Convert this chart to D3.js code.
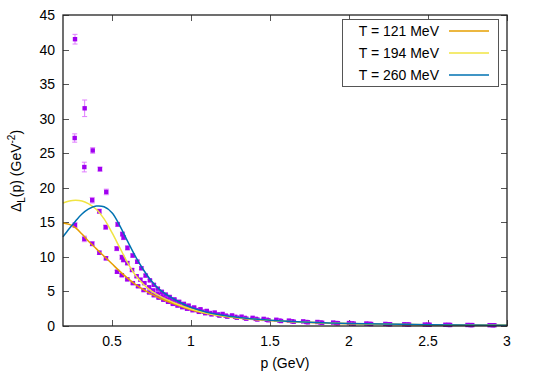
<!DOCTYPE html>
<html>
<head>
<meta charset="utf-8">
<script src="https://cdn.jsdelivr.net/npm/d3@7"></script>
<style>
  body { margin: 0; background: #fff; }
  svg text { font-family: "Liberation Sans", Arial, sans-serif; font-size: 14px; fill: #000; }
</style>
</head>
<body>
<div id="chart"></div>
<script>
// legend entries and curve colours
var temps = ["T = 121 MeV", "T = 194 MeV", "T = 260 MeV"];
var colors = ["#e69f00", "#f0e442", "#0072b2"];

// fitted curves
var curveP = [0.19, 0.23, 0.27, 0.31, 0.35, 0.40, 0.45, 0.50, 0.55, 0.60, 0.65, 0.70, 0.75, 0.80, 0.90, 1.00, 1.10, 1.20, 1.35, 1.50, 1.75, 2.00, 2.50, 3.00];
var fit121 = [14.9, 14.7, 14.2, 13.3, 12.3, 11.2, 10.1, 9.0, 7.9, 6.9, 6.0, 5.25, 4.6, 4.05, 3.15, 2.35, 1.8, 1.42, 1.05, 0.8, 0.52, 0.34, 0.18, 0.1];
var fit194 = [17.8, 18.1, 18.2, 18.1, 17.7, 16.9, 15.5, 13.5, 11.3, 9.1, 7.3, 6.0, 5.05, 4.35, 3.3, 2.45, 1.85, 1.45, 1.07, 0.81, 0.53, 0.35, 0.18, 0.1];
var fit260 = [12.9, 14.1, 15.2, 16.2, 16.9, 17.35, 17.25, 16.4, 14.5, 12.2, 10.0, 8.1, 6.5, 5.3, 3.8, 2.7, 2.0, 1.55, 1.12, 0.84, 0.55, 0.36, 0.19, 0.1];

// lattice data: [p, value, error]
var data121 = [
  [0.266, 14.6, 0.35], [0.325, 12.6, 0.4], [0.375, 11.9, 0.3], [0.420, 10.6, 0.25], [0.462, 9.8, 0.25],
  [0.532, 7.85, 0.2], [0.562, 7.35, 0.2], [0.597, 6.75, 0.2], [0.632, 6.2, 0.15], [0.665, 5.75, 0.15],
  [0.700, 5.2, 0.15], [0.735, 4.85, 0.15], [0.765, 4.45, 0.12], [0.795, 4.1, 0.12], [0.825, 3.8, 0.1],
  [0.855, 3.5, 0.1], [0.885, 3.2, 0.1], [0.915, 2.95, 0.1], [0.945, 2.72, 0.08], [0.975, 2.5, 0.08],
  [1.01, 2.28, 0.07], [1.05, 2.05, 0.07], [1.09, 1.85, 0.06], [1.13, 1.68, 0.06], [1.18, 1.5, 0.06],
  [1.23, 1.35, 0.05], [1.29, 1.2, 0.05], [1.35, 1.06, 0.05], [1.42, 0.94, 0.05], [1.49, 0.83, 0.05],
  [1.57, 0.72, 0.04], [1.65, 0.62, 0.04], [1.74, 0.54, 0.04], [1.83, 0.47, 0.04], [1.93, 0.4, 0.04],
  [2.03, 0.34, 0.03], [2.14, 0.29, 0.03], [2.26, 0.25, 0.03], [2.38, 0.21, 0.03], [2.51, 0.18, 0.03],
  [2.64, 0.15, 0.03], [2.78, 0.13, 0.03], [2.92, 0.11, 0.03]
];
var data194 = [
  [0.264, 27.2, 0.6], [0.325, 23.0, 0.7], [0.375, 18.2, 0.4], [0.420, 16.6, 0.3], [0.460, 14.3, 0.3],
  [0.530, 11.2, 0.3], [0.563, 9.95, 0.3], [0.572, 9.55, 0.25], [0.597, 9.1, 0.25], [0.627, 8.1, 0.2],
  [0.656, 7.2, 0.2], [0.680, 6.7, 0.2], [0.705, 6.2, 0.15], [0.735, 5.6, 0.15], [0.76, 5.15, 0.15],
  [0.79, 4.7, 0.12], [0.82, 4.3, 0.12], [0.85, 3.95, 0.1], [0.88, 3.6, 0.1], [0.91, 3.3, 0.1],
  [0.94, 3.05, 0.1], [0.97, 2.8, 0.08], [1.00, 2.55, 0.08], [1.04, 2.3, 0.07], [1.08, 2.08, 0.07],
  [1.12, 1.88, 0.06], [1.17, 1.68, 0.06], [1.22, 1.5, 0.06], [1.28, 1.33, 0.05], [1.34, 1.17, 0.05],
  [1.41, 1.03, 0.05], [1.48, 0.9, 0.05], [1.56, 0.78, 0.04], [1.64, 0.68, 0.04], [1.73, 0.58, 0.04],
  [1.82, 0.5, 0.04], [1.92, 0.43, 0.04], [2.02, 0.37, 0.03], [2.13, 0.31, 0.03], [2.25, 0.26, 0.03],
  [2.37, 0.22, 0.03], [2.50, 0.19, 0.03], [2.63, 0.16, 0.03], [2.77, 0.13, 0.03], [2.91, 0.11, 0.03]
];
var data260 = [
  [0.266, 41.5, 0.7], [0.327, 31.5, 1.2], [0.378, 25.4, 0.4], [0.424, 22.7, 0.3], [0.464, 19.4, 0.4],
  [0.536, 14.7, 0.3], [0.566, 13.3, 0.3], [0.573, 12.8, 0.3], [0.598, 11.3, 0.3], [0.631, 10.2, 0.25],
  [0.660, 9.3, 0.25], [0.686, 8.35, 0.2], [0.713, 7.3, 0.2], [0.74, 6.6, 0.15], [0.765, 5.95, 0.15],
  [0.79, 5.4, 0.12], [0.815, 4.95, 0.12], [0.84, 4.55, 0.1], [0.865, 4.2, 0.1], [0.895, 3.85, 0.1],
  [0.925, 3.5, 0.1], [0.955, 3.2, 0.08], [0.985, 2.95, 0.08], [1.02, 2.68, 0.07], [1.06, 2.42, 0.07],
  [1.10, 2.18, 0.06], [1.15, 1.95, 0.06], [1.20, 1.74, 0.06], [1.26, 1.53, 0.05], [1.32, 1.35, 0.05],
  [1.39, 1.18, 0.05], [1.46, 1.03, 0.05], [1.54, 0.9, 0.04], [1.62, 0.78, 0.04], [1.71, 0.67, 0.04],
  [1.80, 0.58, 0.04], [1.90, 0.5, 0.04], [2.00, 0.43, 0.03], [2.11, 0.36, 0.03], [2.23, 0.3, 0.03],
  [2.35, 0.25, 0.03], [2.48, 0.21, 0.03], [2.61, 0.18, 0.03], [2.75, 0.15, 0.03], [2.89, 0.12, 0.03]
];

var xTicks = [0.5, 1, 1.5, 2, 2.5, 3];
var yTicks = [0, 5, 10, 15, 20, 25, 30, 35, 40, 45];

var width = 534, height = 374;
var plotL = 63, plotR = 507, plotT = 15, plotB = 326;

var svg = d3.select("#chart").append("svg")
    .attr("width", width)
    .attr("height", height);

var x = d3.scaleLinear().domain([0.19, 3]).range([plotL, plotR]);
var y = d3.scaleLinear().domain([0, 45]).range([plotB, plotT]);

// ticks, inward and mirrored like gnuplot
var tickLen = 6;
var ticks = svg.append("g").attr("stroke", "#555").attr("stroke-width", 1);
xTicks.forEach(function(t) {
    var px = Math.round(x(t)) + 0.5;
    ticks.append("line").attr("x1", px).attr("x2", px).attr("y1", plotB).attr("y2", plotB - tickLen);
    ticks.append("line").attr("x1", px).attr("x2", px).attr("y1", plotT).attr("y2", plotT + tickLen);
});
yTicks.forEach(function(t) {
    var py = Math.round(y(t)) + 0.5;
    ticks.append("line").attr("x1", plotL).attr("x2", plotL + tickLen).attr("y1", py).attr("y2", py);
    ticks.append("line").attr("x1", plotR).attr("x2", plotR - tickLen).attr("y1", py).attr("y2", py);
});

svg.append("g").selectAll("text")
    .data(xTicks)
    .enter().append("text")
    .attr("x", function(d) { return x(d); })
    .attr("y", 346)
    .attr("text-anchor", "middle")
    .text(function(d) { return d; });

svg.append("g").selectAll("text")
    .data(yTicks)
    .enter().append("text")
    .attr("x", 55)
    .attr("y", function(d) { return y(d) + 5; })
    .attr("text-anchor", "end")
    .text(function(d) { return d; });

// data points with error bars
var allData = [data121, data194, data260];
var pts = svg.append("g");
allData.forEach(function(series) {
    var g = pts.append("g");
    g.selectAll("path")
        .data(series)
        .enter().append("path")
        .attr("fill", "none")
        .attr("stroke", "#e07cff")
        .attr("stroke-width", 1)
        .attr("d", function(d) {
            var px = x(d[0]), y1 = y(d[1] + d[2]), y2 = y(d[1] - d[2]);
            return "M" + (px - 2.5) + "," + y1 + "H" + (px + 2.5) +
                "M" + px + "," + y1 + "V" + y2 +
                "M" + (px - 2.5) + "," + y2 + "H" + (px + 2.5);
        });
    g.selectAll("rect")
        .data(series)
        .enter().append("rect")
        .attr("x", function(d) { return x(d[0]) - 2.2; })
        .attr("y", function(d) { return y(d[1]) - 2.2; })
        .attr("width", 4.4)
        .attr("height", 4.4)
        .attr("fill", "#a000f0");
});

// fitted curves
var fits = [fit121, fit194, fit260];
var line = d3.line()
    .x(function(d) { return x(d[0]); })
    .y(function(d) { return y(d[1]); })
    .curve(d3.curveCatmullRom);

fits.forEach(function(f, i) {
    svg.append("path")
        .datum(curveP.map(function(p, j) { return [p, f[j]]; }))
        .attr("fill", "none")
        .attr("stroke", colors[i])
        .attr("stroke-width", 1.5)
        .attr("d", line);
});

// border
svg.append("rect")
    .attr("x", plotL).attr("y", plotT)
    .attr("width", plotR - plotL).attr("height", plotB - plotT)
    .attr("fill", "none")
    .attr("stroke", "#222")
    .attr("stroke-width", 1.3);

// legend
var leg = svg.append("g");
leg.append("rect")
    .attr("x", 342.5).attr("y", 19.5)
    .attr("width", 156).attr("height", 67)
    .attr("fill", "#fff")
    .attr("stroke", "#555")
    .attr("stroke-width", 1);
temps.forEach(function(t, i) {
    var cy = 31 + i * 22;
    leg.append("text")
        .attr("x", 439).attr("y", cy + 5)
        .attr("text-anchor", "end")
        .text(t);
    leg.append("line")
        .attr("x1", 449).attr("x2", 489)
        .attr("y1", cy).attr("y2", cy)
        .attr("stroke", colors[i])
        .attr("stroke-width", 1.5);
});

// axis titles
svg.append("text")
    .attr("x", 285).attr("y", 368)
    .attr("text-anchor", "middle")
    .text("p (GeV)");

var yl = svg.append("text")
    .attr("transform", "translate(21,171) rotate(-90)")
    .attr("text-anchor", "middle");
yl.append("tspan").text("Δ");
yl.append("tspan").attr("dy", 4).attr("font-size", "10px").text("L");
yl.append("tspan").attr("dy", -4).text("(p) (GeV");
yl.append("tspan").attr("dy", -6).attr("font-size", "10px").text("-2");
yl.append("tspan").attr("dy", 6).text(")");
</script>
</body>
</html>
